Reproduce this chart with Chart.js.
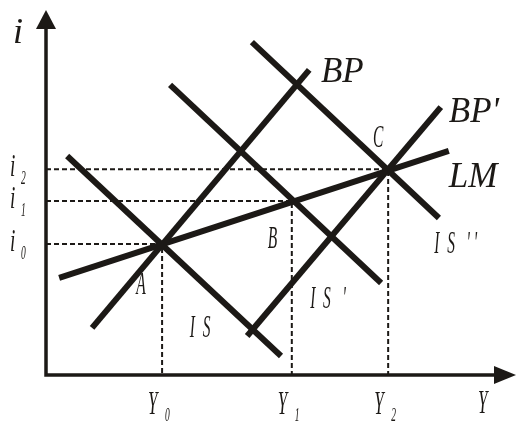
<!DOCTYPE html>
<html>
<head>
<meta charset="utf-8">
<script src="https://cdn.jsdelivr.net/npm/chart.js@4"></script>
<style>
  html, body { margin: 0; padding: 0; background: #fff; }
  #wrap { width: 516px; height: 422px; }
</style>
</head>
<body>
<div id="wrap"><canvas id="c"></canvas></div>
<script>
// curve end points, x = income Y, y = interest rate i (0-100 units)
var IS    = [{x: 4.5, y: 60.0}, {x: 50.0, y: 5.2}];
var IS1   = [{x: 26.4, y: 79.5}, {x: 71.3, y: 25.2}];
var IS2   = [{x: 43.8, y: 91.2}, {x: 83.6, y: 43.0}];
var BP    = [{x: 9.8, y: 12.9}, {x: 56.0, y: 83.6}];
var BP1   = [{x: 42.8, y: 10.7}, {x: 84.0, y: 73.4}];
var LM    = [{x: 2.8, y: 26.6}, {x: 85.7, y: 61.4}];

// equilibrium points A, B, C
var eqY = [24.7, 52.3, 72.8];
var eqI = [35.9, 47.7, 56.4];
var yTickLabels = ['0', '1', '2'];
var iTickLabels = ['0', '1', '2'];

// text labels placed in data units
var curveLabels = [
  {t: 'BP', x: 58.5, y: 80.3, f: 'serif'},
  {t: "BP'", x: 85.7, y: 69.3, f: 'serif'},
  {t: 'LM', x: 85.7, y: 51.5, f: 'serif'},
  {t: 'A', x: 19.2, y: 22.2},
  {t: 'B', x: 47.2, y: 34.8},
  {t: 'C', x: 69.6, y: 62.5},
  {t: 'I  S', x: 30.6, y: 10.4},
  {t: "I  S   '", x: 56.2, y: 18.4},
  {t: "I  S   ' '", x: 82.6, y: 33.4}
];

var ink = '#1c1916';

function solid(pts) {
  return {data: pts, borderColor: ink, borderWidth: 6, pointRadius: 0, showLine: true, borderCapStyle: 'butt'};
}
function dashed(pts) {
  return {data: pts, borderColor: ink, borderWidth: 2, borderDash: [5, 3], pointRadius: 0, showLine: true};
}

var datasets = [];
for (var k = 0; k < eqY.length; k++) {
  datasets.push(dashed([{x: 0, y: eqI[k]}, {x: eqY[k], y: eqI[k]}, {x: eqY[k], y: 0}]));
}
[IS, IS1, IS2, BP, BP1, LM].forEach(function (p) { datasets.push(solid(p)); });

// narrow italic lettering like the original figure
function condText(ctx, text, x, y, size, sx) {
  ctx.save();
  ctx.font = 'italic ' + size + 'px "Liberation Serif", "DejaVu Serif", serif';
  ctx.translate(x, y);
  ctx.scale(sx, 1);
  ctx.fillText(text, 0, 0);
  ctx.restore();
}

var diagram = {
  id: 'diagram',
  afterDraw: function (chart) {
    var ctx = chart.ctx, xs = chart.scales.x, ys = chart.scales.y;
    var a = chart.chartArea;
    ctx.save();
    ctx.fillStyle = ink;
    ctx.strokeStyle = ink;
    // axes
    ctx.lineWidth = 3.5;
    ctx.beginPath();
    ctx.moveTo(a.left, a.top + 18);
    ctx.lineTo(a.left, a.bottom);
    ctx.lineTo(a.right - 20, a.bottom);
    ctx.stroke();
    ctx.beginPath();
    ctx.moveTo(a.left, a.top);
    ctx.lineTo(a.left - 10, a.top + 19);
    ctx.lineTo(a.left + 10, a.top + 19);
    ctx.closePath();
    ctx.fill();
    ctx.beginPath();
    ctx.moveTo(a.right, a.bottom);
    ctx.lineTo(a.right - 22, a.bottom - 9);
    ctx.lineTo(a.right - 22, a.bottom + 9);
    ctx.closePath();
    ctx.fill();

    ctx.textAlign = 'left';
    ctx.textBaseline = 'alphabetic';
    // tick labels with subscripts
    for (var k = 0; k < eqY.length; k++) {
      var px = xs.getPixelForValue(eqY[k]);
      condText(ctx, 'Y', px - 14, a.bottom + 39, 34, 0.5);
      condText(ctx, yTickLabels[k], px + 3, a.bottom + 46, 19, 0.5);
      var py = ys.getPixelForValue(eqI[k]);
      condText(ctx, 'i', a.left - 36, py + 7, 32, 0.6);
      condText(ctx, iTickLabels[k], a.left - 25, py + 15, 19, 0.5);
    }
    condText(ctx, 'Y', a.right - 38, a.bottom + 38, 34, 0.5);

    // axis title i
    ctx.font = 'italic 36px "Liberation Serif", serif';
    ctx.fillText('i', a.left - 33, a.top + 33);

    curveLabels.forEach(function (l) {
      var x = xs.getPixelForValue(l.x), y = ys.getPixelForValue(l.y);
      if (l.f === 'serif') {
        ctx.font = 'italic 35px "Liberation Serif", serif';
        ctx.fillText(l.t, x, y);
      } else {
        condText(ctx, l.t, x, y, 31, 0.5);
      }
    });
    ctx.restore();
  }
};

new Chart(document.getElementById('c'), {
  type: 'scatter',
  data: {datasets: datasets},
  options: {
    responsive: true,
    maintainAspectRatio: false,
    animation: false,
    events: [],
    layout: {padding: {left: 46, right: 0, top: 10, bottom: 47}},
    plugins: {legend: {display: false}, tooltip: {enabled: false}},
    scales: {
      x: {type: 'linear', min: 0, max: 100, display: false},
      y: {type: 'linear', min: 0, max: 100, display: false}
    }
  },
  plugins: [diagram]
});
</script>
</body>
</html>
